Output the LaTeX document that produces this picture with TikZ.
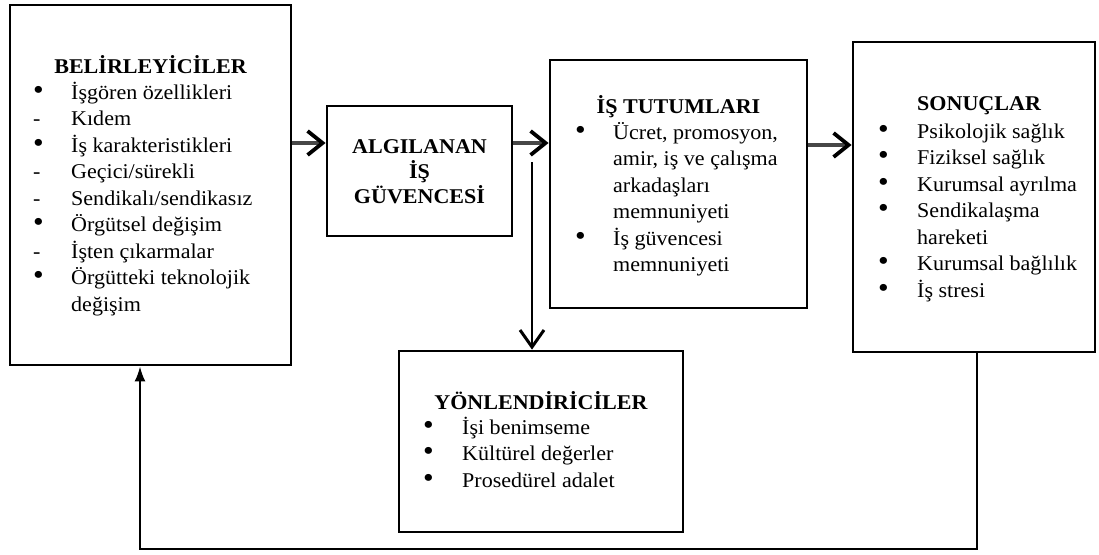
\documentclass[tikz,border=0pt]{standalone}
\usepackage{fontspec}
\setmainfont{Liberation Serif}[FakeStretch=1.05]
\usetikzlibrary{arrows.meta}
% a slightly larger list bullet
\newcommand\listdot{{\fontsize{29}{0}\selectfont •}}

\begin{document}
\begin{tikzpicture}[x=1pt, y=-1pt,
  box/.style={draw=black, line width=2.8pt, inner sep=0pt},
  body/.style={inner sep=0pt, font=\fontsize{21}{26.5}\selectfont},
  heading/.style={body, font=\fontsize{21}{26.5}\selectfont\bfseries},
  flow/.style={draw=black!72, line width=4.2pt,
    -{Straight Barb[length=15pt, width=24pt, line width=3.8pt, color=black]}},
  drop/.style={draw=black, line width=2.4pt,
    -{Straight Barb[length=17pt, width=24pt, line width=3pt]}},
  loop/.style={draw=black, line width=2.2pt, -{Latex[length=15pt, width=11pt]}},
]
\fill[white] (0,0) rectangle (1099,554);
\useasboundingbox (0,0) rectangle (1099,554);

% boxes
\node[box, minimum width=281pt, minimum height=360pt] (det) at (150.5,185) {};
\node[box, minimum width=185pt, minimum height=130pt] (alg) at (419.5,171) {};
\node[box, minimum width=257pt, minimum height=248pt] (tut) at (678.5,184) {};
\node[box, minimum width=284pt, minimum height=181pt] (yon) at (541,441.5) {};
\node[box, minimum width=242pt, minimum height=310pt] (son) at (974,197) {};

% determinants
\node[heading, anchor=base] (detT) at (150.5,73) {BELİRLEYİCİLER};
\node[body, anchor=base west] (detL) at (33,99) {%
  \begin{tabular}[t]{@{}p{38pt}@{}l@{}}
  \listdot& İşgören özellikleri\\
  -& Kıdem\\
  \listdot& İş karakteristikleri\\
  -& Geçici/sürekli\\
  -& Sendikalı/sendikasız\\
  \listdot& Örgütsel değişim\\
  -& İşten çıkarmalar\\
  \listdot& Örgütteki teknolojik\\
   & değişim
  \end{tabular}};

% perceived job security
\node[inner sep=0pt, font=\fontsize{21}{25}\selectfont\bfseries, anchor=base] (algT) at (419.5,153) {%
  \begin{tabular}[t]{@{}c@{}}ALGILANAN\\ İŞ\\ GÜVENCESİ\end{tabular}};

% job attitudes
\node[heading, anchor=base] (tutT) at (678.5,113) {İŞ TUTUMLARI};
\node[body, anchor=base west] (tutL) at (575,139) {%
  \begin{tabular}[t]{@{}p{38pt}@{}l@{}}
  \listdot& Ücret, promosyon,\\
   & amir, iş ve çalışma\\
   & arkadaşları\\
   & memnuniyeti\\
  \listdot& İş güvencesi\\
   & memnuniyeti
  \end{tabular}};

% moderators
\node[heading, anchor=base] (yonT) at (541,409) {YÖNLENDİRİCİLER};
\node[body, anchor=base west] (yonL) at (423,434) {%
  \begin{tabular}[t]{@{}p{39pt}@{}l@{}}
  \listdot& İşi benimseme\\
  \listdot& Kültürel değerler\\
  \listdot& Prosedürel adalet
  \end{tabular}};

% outcomes
\node[heading, anchor=base west] (sonT) at (917,110) {SONUÇLAR};
\node[body, anchor=base west] (sonL) at (878,138) {%
  \begin{tabular}[t]{@{}p{39pt}@{}l@{}}
  \listdot& Psikolojik sağlık\\
  \listdot& Fiziksel sağlık\\
  \listdot& Kurumsal ayrılma\\
  \listdot& Sendikalaşma\\
   & hareketi\\
  \listdot& Kurumsal bağlılık\\
  \listdot& İş stresi
  \end{tabular}};

% connectors
\coordinate (rowA) at (0,143);
\coordinate (rowB) at (0,145);
\coordinate (split) at (532,162);
\coordinate (fbR) at (977,549);
\coordinate (fbL) at (140,549);

\draw[flow] (det.east |- rowA) -- (alg.west |- rowA);
\draw[flow] (alg.east |- rowA) -- (tut.west |- rowA);
\draw[flow] (tut.east |- rowB) -- (son.west |- rowB);
\draw[drop] (split) -- (split |- yon.north);
\draw[loop] (son.south -| fbR) -- (fbR) -- (fbL) -- (det.south -| fbL);
\end{tikzpicture}
\end{document}
